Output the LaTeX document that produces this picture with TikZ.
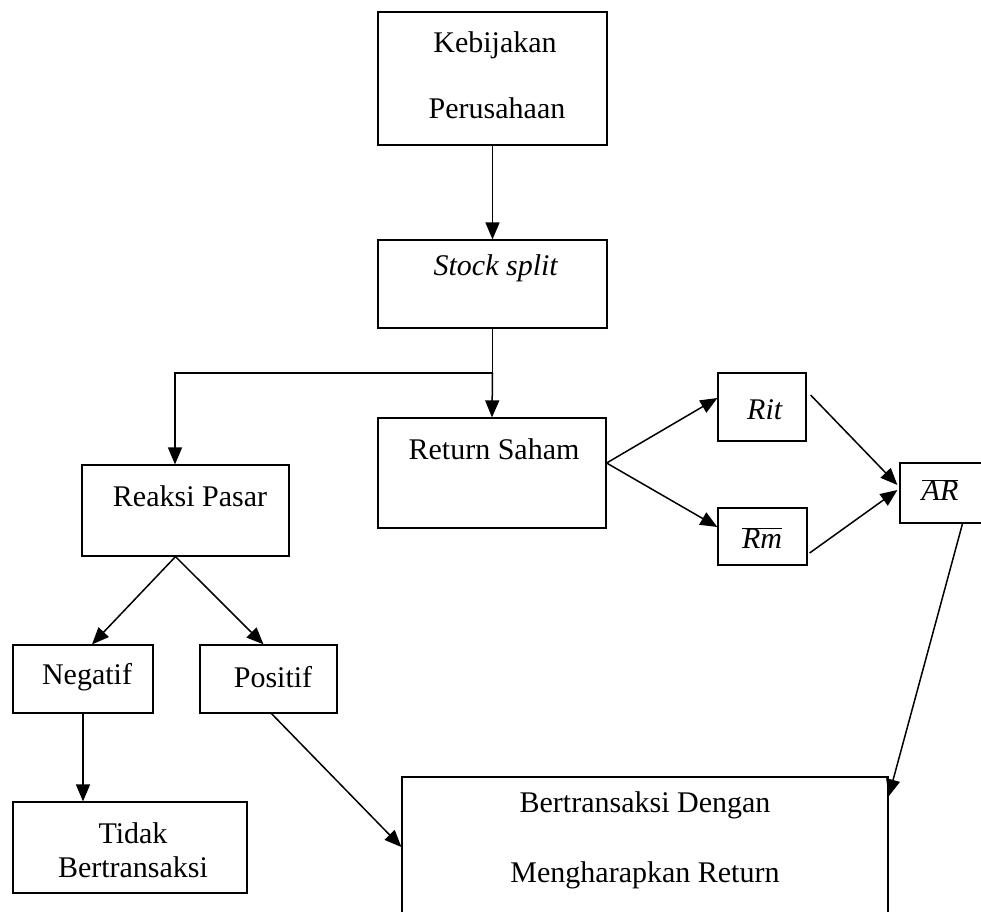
\documentclass[tikz,border=0pt]{standalone}
\usepackage{fontspec}
\setmainfont{Liberation Serif}
\usetikzlibrary{arrows.meta}
\tikzset{
	box/.style={rectangle,draw,line width=1.2pt,inner sep=0pt},
	txt/.style={font=\fontsize{30}{34}\selectfont,inner sep=0pt}
}

\begin{document}
\begin{tikzpicture}[x=1pt,y=-1pt,>={Triangle[length=17pt,width=14pt]},line width=1.5pt]
		\clip (0,0) rectangle (981,911);
		% boxes
		\node[box,minimum width=229pt,minimum height=133pt] (1)  at (492.5,78.5) {};
		\node[box,minimum width=229pt,minimum height=88pt]  (2)  at (492.5,284)  {};
		\node[box,minimum width=228pt,minimum height=110pt] (3)  at (492,473)    {};
		\node[box,minimum width=207pt,minimum height=91pt]  (4)  at (185.5,510.5) {};
		\node[box,minimum width=88pt,minimum height=68pt]   (5)  at (762,407)    {};
		\node[box,minimum width=89pt,minimum height=57pt]   (6)  at (762.5,536.5) {};
		\node[box,minimum width=85pt,minimum height=60pt]   (7)  at (942.5,493)  {};
		\node[box,minimum width=140pt,minimum height=68pt]  (8)  at (83,679)     {};
		\node[box,minimum width=137pt,minimum height=68pt]  (9)  at (268.5,679)  {};
		\node[box,minimum width=234pt,minimum height=91pt]  (10) at (130,847.5)  {};
		\node[box,minimum width=486pt,minimum height=140pt] (11) at (645,847)    {};

		% texts
		\node[txt] (1a)  at (495,45)  {Kebijakan};
		\node[txt] (1b)  at (497,108) {Perusahaan};
		\node[txt] (2a)  at (496,268) {\textit{Stock split}};
		\node[txt] (3a)  at (494,449) {Return Saham};
		\node[txt] (4a)  at (190,496) {Reaksi Pasar};
		\node[txt] (5a)  at (765,410) {\textit{Rit}};
		\node[txt] (6a)  at (762,538) {$\overline{\mbox{\itshape Rm}}$};
		\node[txt] (7a)  at (940,490) {$\overline{\mbox{\itshape AR}}$};
		\node[txt] (8a)  at (87,677)  {Negatif};
		\node[txt] (9a)  at (273,677) {Positif};
		\node[txt] (10a) at (133,833) {Tidak};
		\node[txt] (10b) at (133,867) {Bertransaksi};
		\node[txt] (11a) at (645,805) {Bertransaksi Dengan};
		\node[txt] (11b) at (645,875) {Mengharapkan Return};

		% connectors
		\coordinate (j) at (492.5,373);
		\coordinate (k) at (175,373);
		\draw (2.south) -- (j);
		\draw[->] (j) -- (3.north);
		\draw[->] (j) -- (k) -- (k |- 4.north);

		\path[->]
		  (1.south) edge (2.north)
		  ([yshift=10pt]3.east) edge ([yshift=9pt]5.west)
		  ([yshift=10pt]3.east) edge ([yshift=9.5pt]6.west)
		  ([xshift=4pt,yshift=12pt]5.east) edge ([xshift=-2pt,yshift=8pt]7.west)
		  ([xshift=2pt,yshift=-16.5pt]6.east) edge ([xshift=-2pt,yshift=3pt]7.west)
		  ([xshift=20pt]7.south) edge ([yshift=-20pt]11.north east)
		  ([xshift=-10pt]4.south) edge ([xshift=9pt]8.north)
		  ([xshift=-10pt]4.south) edge ([xshift=-5pt]9.north)
		  (8.south) edge (8.south |- 10.north)
		  ([xshift=3pt]9.south) edge (11.west);
\end{tikzpicture}
\end{document}
